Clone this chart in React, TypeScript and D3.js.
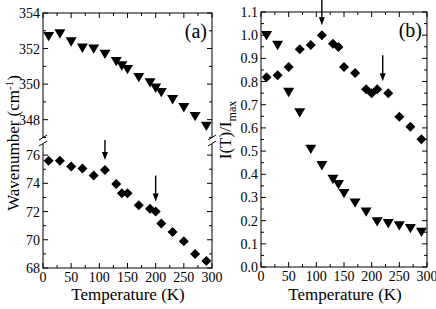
import * as d3 from "d3";

// temperatures (K)
const tempA = [10, 30, 50, 70, 90, 110, 130, 140, 150, 170, 190, 200, 210, 230, 250, 270, 290];
const upperA = [352.7, 352.85, 352.4, 352.05, 352.0, 351.7, 351.3, 351.05, 350.85, 350.4, 350.1, 349.8, 349.55, 349.15, 348.7, 348.2, 347.65];
const lowerA = [75.6, 75.6, 75.2, 75.05, 74.55, 74.95, 73.95, 73.3, 73.3, 72.45, 72.2, 72.0, 71.15, 70.55, 69.9, 69.0, 68.5];

const tempBDia = [10, 30, 50, 70, 90, 110, 130, 140, 150, 170, 190, 200, 210, 230, 250, 270, 290];
const diaB = [0.818, 0.827, 0.863, 0.939, 0.958, 1.0, 0.963, 0.949, 0.863, 0.837, 0.767, 0.749, 0.767, 0.749, 0.648, 0.605, 0.551];
const tempBTri = [10, 30, 50, 70, 90, 110, 130, 140, 150, 170, 190, 210, 230, 250, 270, 290];
const triB = [1.0, 0.958, 0.755, 0.667, 0.51, 0.439, 0.38, 0.357, 0.319, 0.278, 0.239, 0.197, 0.189, 0.18, 0.168, 0.152];

const upperTicks = [348, 350, 352, 354];
const lowerTicks = [68, 70, 72, 74, 76];
const xTicks = [0, 50, 100, 150, 200, 250, 300];
const bTicks = [0, 0.1, 0.2, 0.3, 0.4, 0.5, 0.6, 0.7, 0.8, 0.9, 1.0, 1.1];

// arrows: [temperature, value the arrow points at, arrow length]
const arrowsA = [[110, 74.95, 20], [200, 72.0, 26]];
const arrowsB = [[110, 1.0, 30], [220, 0.758, 26]];

const font = "Liberation Serif, Times New Roman, DejaVu Serif, serif";

const triPath = (cx: number, cy: number, s = 5.5) =>
  `M${cx - s},${cy - s * 0.75}L${cx + s},${cy - s * 0.75}L${cx},${cy + s * 0.95}Z`;
const diaPath = (cx: number, cy: number, s = 5) =>
  `M${cx},${cy - s}L${cx + s},${cy}L${cx},${cy + s}L${cx - s},${cy}Z`;

const Arrow = ({ x, yTip, len }: { x: number; yTip: number; len: number }) => (
  <g>
    <line x1={x} x2={x} y1={yTip - len} y2={yTip - 6} stroke="#000" strokeWidth={1.4} />
    <path d={`M${x - 3},${yTip - 8}L${x + 3},${yTip - 8}L${x},${yTip}Z`} fill="#000" />
  </g>
);

const XAxis = ({ x, top, bottom }: { x: d3.ScaleLinear<number, number>; top: number; bottom: number }) => {
  const minor = d3.range(0, 301, 25);
  return (
    <g>
      {minor.map((t) => {
        const major = t % 50 === 0;
        const len = major ? 5 : 3;
        return (
          <g key={t}>
            <line x1={x(t)} x2={x(t)} y1={bottom} y2={bottom - len} stroke="#000" />
            <line x1={x(t)} x2={x(t)} y1={top} y2={top + len} stroke="#000" />
          </g>
        );
      })}
      {xTicks.map((t) => (
        <text key={t} x={x(t)} y={bottom + 14} fontSize={14} textAnchor="middle">
          {t}
        </text>
      ))}
    </g>
  );
};

export default function App() {
  // panel (a)
  const xa = d3.scaleLinear().domain([0, 300]).range([43, 212]);
  const yUp = d3.scaleLinear().domain([346.8, 354]).range([141, 13]);
  const yLo = d3.scaleLinear().domain([68, 77]).range([268, 141]);
  // panel (b)
  const xb = d3.scaleLinear().domain([0, 300]).range([261, 427]);
  const yb = d3.scaleLinear().domain([0, 1.1]).range([267, 12]);

  const brk = 141;
  const breakMark = (cx: number) => (
    <g>
      <rect x={cx - 4} y={brk - 3} width={8} height={6} fill="#fff" />
      <line x1={cx - 4} y1={brk - 1} x2={cx + 4} y2={brk - 6} stroke="#000" strokeWidth={1} />
      <line x1={cx - 4} y1={brk + 5} x2={cx + 4} y2={brk} stroke="#000" strokeWidth={1} />
    </g>
  );

  const yTicksA = (scale: d3.ScaleLinear<number, number>, vals: number[], minors: number[]) => (
    <g>
      {minors.map((v) => (
        <g key={"m" + v}>
          <line x1={43} x2={46} y1={scale(v)} y2={scale(v)} stroke="#000" />
          <line x1={212} x2={209} y1={scale(v)} y2={scale(v)} stroke="#000" />
        </g>
      ))}
      {vals.map((v) => (
        <g key={v}>
          <line x1={43} x2={48} y1={scale(v)} y2={scale(v)} stroke="#000" />
          <line x1={212} x2={207} y1={scale(v)} y2={scale(v)} stroke="#000" />
          <text x={40} y={scale(v) + 5} fontSize={14} textAnchor="end">
            {v}
          </text>
        </g>
      ))}
    </g>
  );

  return (
    <svg
      width={436}
      height={309}
      fontFamily={font}
      style={{ position: "absolute", left: 0, top: 0, background: "#fff", fontFamily: font }}
    >
      {/* panel (a) */}
      <g>
        <rect x={43} y={13} width={169} height={255} fill="none" stroke="#000" strokeWidth={1} />
        {yTicksA(yUp, upperTicks, [347, 349, 351, 353])}
        {yTicksA(yLo, lowerTicks, [69, 71, 73, 75])}
        <XAxis x={xa} top={13} bottom={268} />
        {breakMark(43)}
        {breakMark(212)}
        {tempA.map((t, i) => (
          <path key={"u" + t} d={triPath(xa(t), yUp(upperA[i]))} fill="#000" />
        ))}
        {tempA.map((t, i) => (
          <path key={"l" + t} d={diaPath(xa(t), yLo(lowerA[i]))} fill="#000" />
        ))}
        {arrowsA.map(([t, v, l]) => (
          <Arrow key={t} x={xa(t)} yTip={yLo(v) - 10} len={l} />
        ))}
        <text x={207} y={38} fontSize={20} textAnchor="end">(a)</text>
        <text x={128} y={300} fontSize={17} textAnchor="middle">Temperature (K)</text>
        <text transform="translate(19,143) rotate(-90)" fontSize={17} textAnchor="middle">
          Wavenumber (cm<tspan dy={-6} fontSize={11}>-1</tspan><tspan dy={6}>)</tspan>
        </text>
      </g>

      {/* panel (b) */}
      <g>
        <rect x={261} y={12} width={166} height={255} fill="none" stroke="#000" strokeWidth={1} />
        {d3.range(0, 23).map((k) => {
          const v = k * 0.05;
          const len = k % 2 === 0 ? 5 : 3;
          return (
            <g key={k}>
              <line x1={261} x2={261 + len} y1={yb(v)} y2={yb(v)} stroke="#000" />
              <line x1={427} x2={427 - len} y1={yb(v)} y2={yb(v)} stroke="#000" />
            </g>
          );
        })}
        {bTicks.map((v) => (
          <text key={v} x={258} y={yb(v) + 5} fontSize={14} textAnchor="end">
            {v.toFixed(1)}
          </text>
        ))}
        <XAxis x={xb} top={12} bottom={267} />
        {tempBTri.map((t, i) => (
          <path key={"t" + t} d={triPath(xb(t), yb(triB[i]))} fill="#000" />
        ))}
        {tempBDia.map((t, i) => (
          <path key={"d" + t} d={diaPath(xb(t), yb(diaB[i]))} fill="#000" />
        ))}
        {arrowsB.map(([t, v, l]) => (
          <Arrow key={t} x={xb(t)} yTip={yb(v) - 10} len={l} />
        ))}
        <text x={422} y={37} fontSize={20} textAnchor="end">(b)</text>
        <text x={345} y={300} fontSize={17} textAnchor="middle">Temperature (K)</text>
        <text transform="translate(231,130) rotate(-90)" fontSize={17} textAnchor="middle">
          I(T)/I<tspan dy={5} fontSize={12}>max</tspan>
        </text>
      </g>
    </svg>
  );
}
